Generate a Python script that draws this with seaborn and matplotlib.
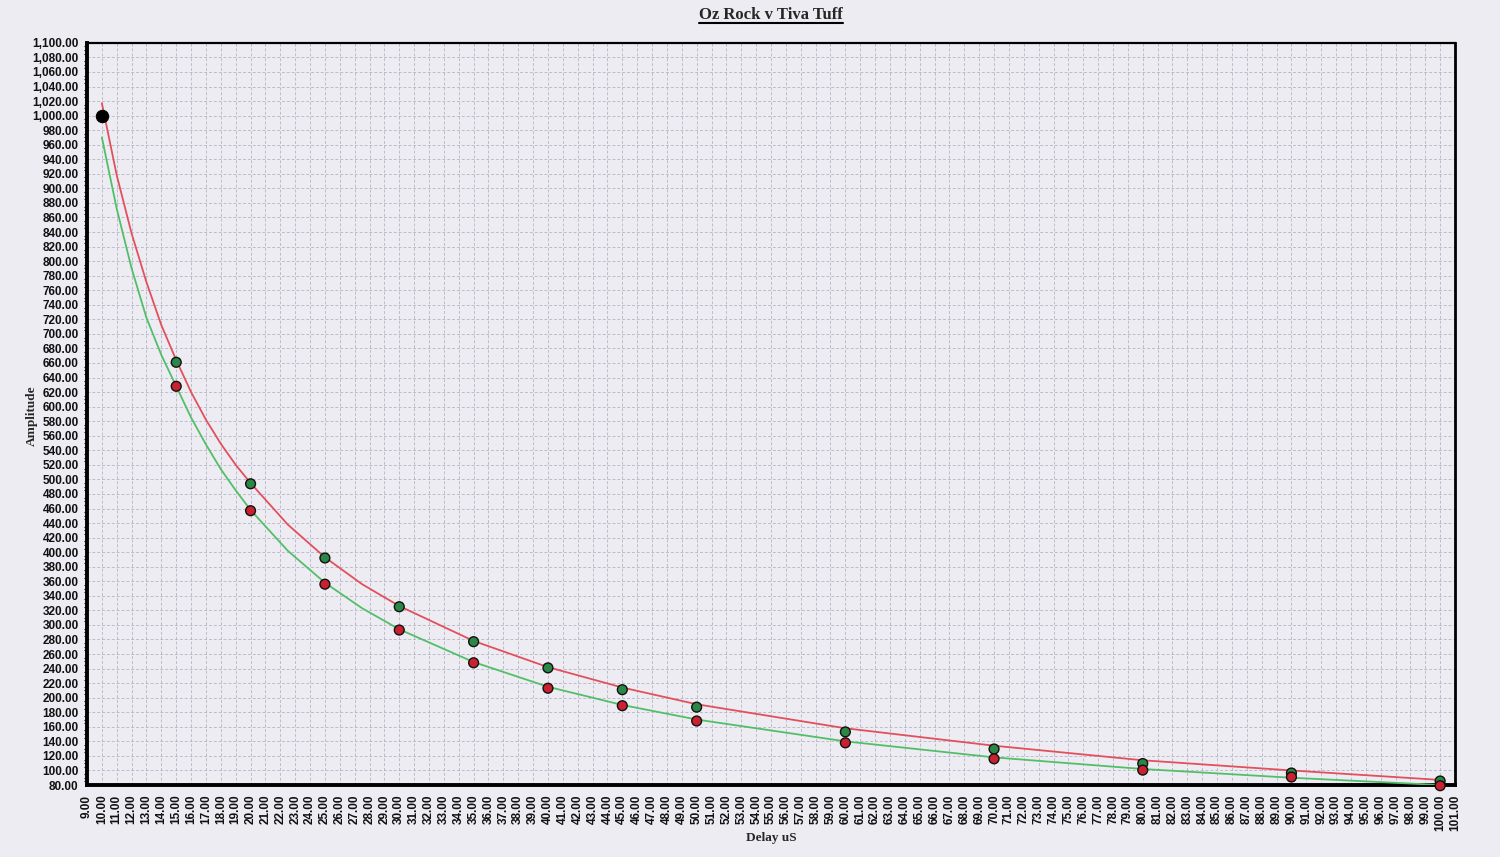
import numpy as np
import pandas as pd
import matplotlib
matplotlib.use("Agg")
import matplotlib.pyplot as plt
import seaborn as sns
from matplotlib.ticker import MultipleLocator, FuncFormatter

# ---- data ----
delay_pts = [15, 20, 25, 30, 35, 40, 45, 50, 60, 70, 80, 90, 100]
oz_rock_pts = [661, 494, 392, 325, 277, 241, 211, 187, 153, 129.5, 109.5, 96.5, 85.5]   # green markers
tiva_tuff_pts = [628, 457, 356, 293, 248, 213, 189, 168, 138, 116, 100.5, 91, 79]       # red markers
start_delay = [10]
start_amp = [1000]

curve_x = [10, 11, 12, 13, 14, 15, 16, 17, 18, 19, 20, 22.5, 25, 27.5, 30, 35, 40, 45, 50, 60, 70, 80, 90, 100]
red_curve = [1017, 918, 838, 771, 712, 664, 620, 582, 549, 520, 495, 438, 393, 356, 326, 278, 242, 214, 191, 158, 134, 114, 100, 87]
green_curve = [970, 872, 790, 722, 671, 628, 585, 548, 514, 485, 458, 402, 358, 323, 294, 249, 215, 190, 170, 140, 118, 102, 90, 80]

title = "Oz Rock v Tiva Tuff"
xlabel = "Delay uS"
ylabel = "Amplitude"

BG = "#edecf3"
sns.set_theme(style="white")
plt.rcParams["font.family"] = ["Liberation Sans", "DejaVu Sans"]

fig = plt.figure(figsize=(15, 8.57), dpi=100, facecolor=BG)
ax = fig.add_axes([0.058, 0.084, 0.912, 0.866])
ax.set_facecolor(BG)

curves = pd.DataFrame({"x": curve_x * 2,
                       "y": red_curve + green_curve,
                       "s": ["red"] * len(curve_x) + ["green"] * len(curve_x)})
sns.lineplot(data=curves, x="x", y="y", hue="s", palette={"red": "#e2505c", "green": "#52bf68"},
             linewidth=1.3, legend=False, ax=ax, zorder=3)

pts = pd.DataFrame({"x": delay_pts * 2,
                    "y": oz_rock_pts + tiva_tuff_pts,
                    "s": ["g"] * len(delay_pts) + ["r"] * len(delay_pts)})
sns.scatterplot(data=pts, x="x", y="y", hue="s", palette={"g": "#2b8745", "r": "#c9212f"},
                s=50, edgecolor="#111111", linewidth=1.0, legend=False, ax=ax, zorder=4, clip_on=False)
sns.scatterplot(x=start_delay, y=start_amp, color="black", s=80, edgecolor="black",
                legend=False, ax=ax, zorder=5)

ax.set_xlim(9, 101)
ax.set_ylim(80, 1100)
ax.xaxis.set_major_locator(MultipleLocator(1))
ax.yaxis.set_major_locator(MultipleLocator(20))
ax.yaxis.set_minor_locator(MultipleLocator(5))
ax.xaxis.set_major_formatter(FuncFormatter(lambda v, p: f"{v:,.2f}"))
ax.yaxis.set_major_formatter(FuncFormatter(lambda v, p: f"{v:,.2f}"))
ax.tick_params(axis="x", which="major", direction="out", length=5, width=1, color="black",
               labelsize=8.5, labelrotation=90, pad=2)
ax.tick_params(axis="y", which="major", direction="out", length=5, width=1, color="black",
               labelsize=8.5, pad=1)
ax.tick_params(axis="y", which="minor", direction="out", length=2.5, width=0.8, color="black", left=True)
for lab in ax.get_xticklabels() + ax.get_yticklabels():
    lab.set_fontweight("bold")
    lab.set_color("#111111")

ax.grid(True, which="major", color="#a9a8ba", linestyle=(0, (3, 2)), linewidth=0.7, alpha=0.7)
ax.set_axisbelow(True)

for side, lw in [("left", 2.8), ("bottom", 2.8), ("top", 1.6), ("right", 2.0)]:
    ax.spines[side].set_visible(True)
    ax.spines[side].set_color("black")
    ax.spines[side].set_linewidth(lw)

ax.set_xlabel("")
ax.set_ylabel("")
fig.text(0.514, 0.022, xlabel, ha="center", va="center", fontsize=9.5, fontweight="bold",
         family=["Liberation Serif", "DejaVu Serif"])
fig.text(0.021, 0.515, ylabel, ha="center", va="center", rotation=90, fontsize=9.5, fontweight="bold",
         family=["Liberation Serif", "DejaVu Serif"])

t = fig.text(0.514, 0.982, title, ha="center", va="center", fontsize=12, fontweight="bold",
             family=["Liberation Serif", "DejaVu Serif"])
fig.canvas.draw()
bb = t.get_window_extent(fig.canvas.get_renderer()).transformed(fig.transFigure.inverted())
fig.add_artist(plt.Line2D([bb.x0, bb.x1], [bb.y0 + 0.001, bb.y0 + 0.001], color="black",
                          linewidth=1.5, transform=fig.transFigure))

fig.savefig("out.png", dpi=100, facecolor=BG)
